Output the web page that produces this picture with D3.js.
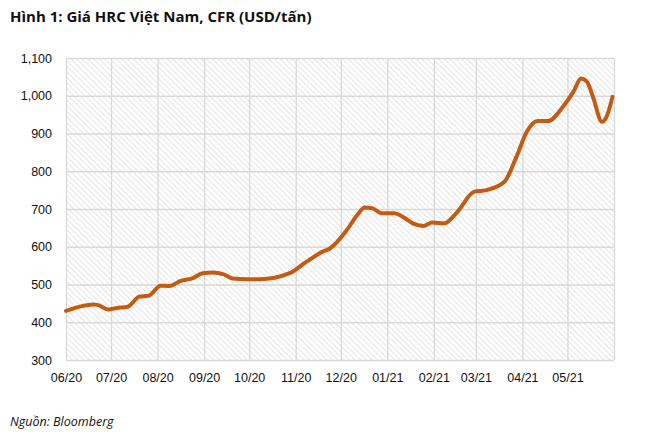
<!DOCTYPE html>
<html>
<head>
<meta charset="utf-8">
<script src="https://cdn.jsdelivr.net/npm/d3@7"></script>
<style>
  body { margin: 0; background: #fff; }
  svg { display: block; font-family: 'Open Sans', sans-serif; }
</style>
</head>
<body>
<div id="chart"></div>
<script>
// HRC price, Vietnam CFR (USD/tan)
var dates = ['2020-06-01','2020-06-19','2020-06-22','2020-06-29','2020-07-05','2020-07-12',
	'2020-07-20','2020-07-26','2020-08-03','2020-08-09','2020-08-16','2020-08-24','2020-08-31',
	'2020-09-07','2020-09-14','2020-09-20','2020-09-30','2020-10-08','2020-10-28','2020-11-08',
	'2020-11-19','2020-11-24','2020-12-05','2020-12-12','2020-12-17','2020-12-22','2020-12-28',
	'2021-01-06','2021-01-11','2021-01-18','2021-01-25','2021-01-31','2021-02-08','2021-02-16',
	'2021-02-28','2021-03-08','2021-03-20','2021-03-28','2021-04-04','2021-04-11','2021-04-18',
	'2021-04-28','2021-05-05','2021-05-10','2021-05-14','2021-05-18','2021-05-24','2021-05-27',
	'2021-05-31']
var prices = [430,447,446,434,438,441,
	468,470,497,496,509,516,530,
	532,527,516,514,514,530,560,
	587,596,644,684,704,702,689,
	689,680,662,655,664,662,689,
	746,750,772,838,905,933,933,
	971,1011,1046,1037,997,931,944,
	997]
var yTicks = [300,400,500,600,700,800,900,1000,1100]
var monthTicks = ['2020-06-01','2020-07-01','2020-08-01','2020-09-01','2020-10-01','2020-11-01',
	'2020-12-01','2021-01-01','2021-02-01','2021-03-01','2021-04-01','2021-05-01','2021-06-01']
var monthLabels = ['06/20','07/20','08/20','09/20','10/20','11/20','12/20','01/21','02/21','03/21','04/21','05/21']

var W = 666, H = 435
var margin = {top: 58, right: 52, bottom: 75, left: 66}
var parse = d3.timeParse('%Y-%m-%d')

var svg = d3.select('#chart').append('svg')
	.attr('width', W)
	.attr('height', H)

var defs = svg.append('defs')
var pat = defs.append('pattern')
	.attr('id', 'hatch')
	.attr('patternUnits', 'userSpaceOnUse')
	.attr('width', 4)
	.attr('height', 4)
	.attr('patternTransform', 'rotate(-45)')
pat.append('line')
	.attr('x1', 0).attr('y1', 0).attr('x2', 0).attr('y2', 4)
	.style('stroke', '#d4d4d4')
	.style('stroke-width', 1.2)

var x = d3.scaleTime()
	.domain([parse(monthTicks[0]), parse(monthTicks[monthTicks.length-1])])
	.range([margin.left, W - margin.right])
var y = d3.scaleLinear()
	.domain([300, 1100])
	.range([H - margin.bottom, margin.top])

var g = svg.append('g')

g.append('rect')
	.attr('x', x.range()[0])
	.attr('y', y.range()[1])
	.attr('width', x.range()[1] - x.range()[0])
	.attr('height', y.range()[0] - y.range()[1])
	.style('fill', 'url(#hatch)')

// grid
var yAxis = d3.axisLeft(y)
	.tickValues(yTicks)
	.tickFormat(d3.format(','))
	.tickSize(-(x.range()[1] - x.range()[0]))
	.tickPadding(14)
var yg = g.append('g')
	.attr('transform', 'translate(' + margin.left + ',0)')
	.call(yAxis)
yg.select('.domain').remove()
yg.selectAll('line').style('stroke', '#d9d9d9').style('stroke-width', 1.3)
yg.selectAll('text')
	.style('font-size', '12.5px')
	.style('fill', '#111')

var xAxis = d3.axisBottom(x)
	.tickValues(monthTicks.map(parse))
	.tickFormat(function(d, i){ return monthLabels[i] || '' })
	.tickSize(-(y.range()[0] - y.range()[1]))
	.tickPadding(13)
var xg = g.append('g')
	.attr('transform', 'translate(0,' + (H - margin.bottom) + ')')
	.call(xAxis)
xg.select('.domain').remove()
xg.selectAll('line').style('stroke', '#d9d9d9').style('stroke-width', 1.3)
xg.selectAll('text')
	.style('font-size', '12.5px')
	.style('fill', '#111')

// series
var data = dates.map(function(d, i){ return {date: parse(d), value: prices[i]} })
var line = d3.line()
	.x(function(d){ return x(d.date) })
	.y(function(d){ return y(d.value) })
	.curve(d3.curveMonotoneX)
g.append('path')
	.datum(data)
	.attr('d', line)
	.style('fill', 'none')
	.style('stroke', '#c55a11')
	.style('stroke-width', 4)
	.style('stroke-linejoin', 'round')
	.style('stroke-linecap', 'round')

svg.append('text')
	.attr('x', 10)
	.attr('y', 22)
	.text('Hình 1: Giá HRC Việt Nam, CFR (USD/tấn)')
	.style('font-size', '15px')
	.style('font-weight', 'bold')
	.style('fill', '#111')

svg.append('text')
	.attr('x', 10)
	.attr('y', 426)
	.text('Nguồn: Bloomberg')
	.style('font-size', '12.5px')
	.style('font-style', 'italic')
	.style('fill', '#111')
</script>
</body>
</html>
